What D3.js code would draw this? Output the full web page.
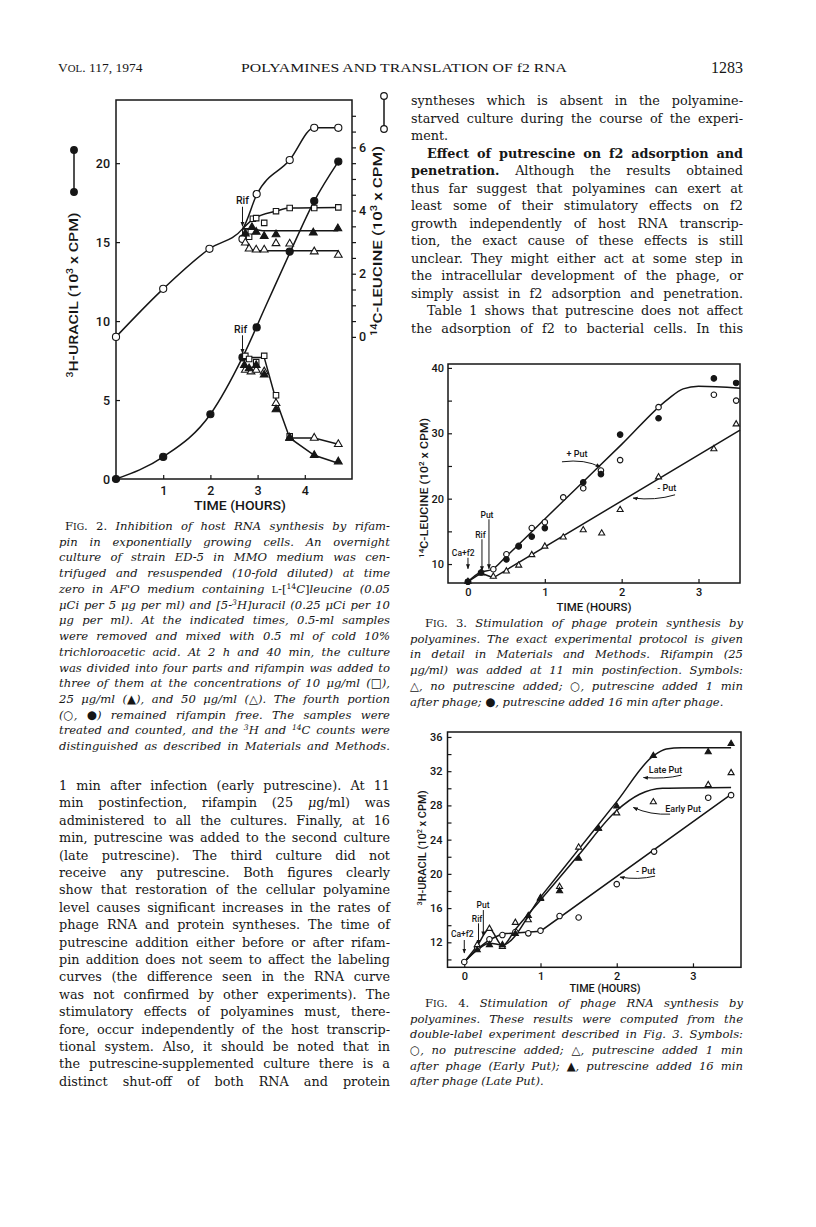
<!DOCTYPE html>
<html>
<head>
<meta charset="utf-8">
<script src="https://cdn.jsdelivr.net/npm/d3@7"></script>
<style>
  body { margin: 0; background: #fff; }
  svg { display: block; }
</style>
</head>
<body>
<svg id="page" width="816" height="1227"></svg>
<script>
const INK = '#161616';
const SERIF = '"DejaVu Serif", serif';
const SANS = 'Roboto, "Liberation Sans", sans-serif';

// ---------- page text ----------
// markup: *bold*  `toggle italic`  ^14 superscript  ~IG small caps  > indent  | last line (no justify)
const headerLeft = "V~OL. 117, 1974";
const headerTitle = "POLYAMINES AND TRANSLATION OF f2 RNA";
const headerPage = "1283";

const rightBodyLines = [
  "syntheses which is absent in the polyamine-",
  "starved culture during the course of the experi-",
  "ment.|",
  ">*Effect of putrescine on f2 adsorption and*",
  "*penetration.* Although the results obtained",
  "thus far suggest that polyamines can exert at",
  "least some of their stimulatory effects on f2",
  "growth independently of host RNA transcrip-",
  "tion, the exact cause of these effects is still",
  "unclear. They might either act at some step in",
  "the intracellular development of the phage, or",
  "simply assist in f2 adsorption and penetration.",
  ">Table 1 shows that putrescine does not affect",
  "the adsorption of f2 to bacterial cells. In this"
];

const leftBodyLines = [
  "1 min after infection (early putrescine). At 11",
  "min postinfection, rifampin (25 `μ`g/ml) was",
  "administered to all the cultures. Finally, at 16",
  "min, putrescine was added to the second culture",
  "(late putrescine). The third culture did not",
  "receive any putrescine. Both figures clearly",
  "show that restoration of the cellular polyamine",
  "level causes significant increases in the rates of",
  "phage RNA and protein syntheses. The time of",
  "putrescine addition either before or after rifam-",
  "pin addition does not seem to affect the labeling",
  "curves (the difference seen in the RNA curve",
  "was not confirmed by other experiments). The",
  "stimulatory effects of polyamines must, there-",
  "fore, occur independently of the host transcrip-",
  "tional system. Also, it should be noted that in",
  "the putrescine-supplemented culture there is a",
  "distinct shut-off of both RNA and protein"
];

const fig2Caption = [
  ">`F~IG. 2.` Inhibition of host RNA synthesis by rifam-",
  "pin in exponentially growing cells. An overnight",
  "culture of strain ED-5 in MMO medium was cen-",
  "trifuged and resuspended (10-fold diluted) at time",
  "zero in AF'O medium containing `~L-[^14`C`]`leucine (0.05",
  "μCi per 5 μg per ml) and [5-^3H]uracil (0.25 μCi per 10",
  "μg per ml). At the indicated times, 0.5-ml samples",
  "were removed and mixed with 0.5 ml of cold 10%",
  "trichloroacetic acid. At 2 h and 40 min, the culture",
  "was divided into four parts and rifampin was added to",
  "three of them at the concentrations of 10 μg/ml (`□`),",
  "25 μg/ml (`▲`), and 50 μg/ml (`△`). The fourth portion",
  "(`○`, `●`) remained rifampin free. The samples were",
  "treated and counted, and the ^3H and ^14C counts were",
  "distinguished as described in Materials and Methods."
];

const fig3Caption = [
  ">`F~IG. 3.` Stimulation of phage protein synthesis by",
  "polyamines. The exact experimental protocol is given",
  "in detail in Materials and Methods. Rifampin (25",
  "μg/ml) was added at 11 min postinfection. Symbols:",
  "`△`, no putrescine added; `○`, putrescine added 1 min",
  "after phage; `●`, putrescine added 16 min after phage.|"
];

const fig4Caption = [
  ">`F~IG. 4.` Stimulation of phage RNA synthesis by",
  "polyamines. These results were computed from the",
  "double-label experiment described in Fig. 3. Symbols:",
  "`○`, no putrescine added; `△`, putrescine added 1 min",
  "after phage (Early Put); `▲`, putrescine added 16 min",
  "after phage (Late Put).|"
];

// ---------- Fig. 2 data : [hours, value] ----------
const fig2XTicks = [1, 2, 3, 4];
const fig2UracilTicks = [0, 5, 10, 15, 20];
const fig2LeucineTicks = [0, 2, 4, 6];
// 14C-leucine (10^3 cpm, right axis)
const leuControl = [[0, 0], [1, 1.52], [1.98, 2.79], [2.68, 3.1], [2.98, 4.52], [3.68, 5.6], [4.2, 6.62], [4.71, 6.62]];
const leuControlLine = [[0, 0], [1, 1.52], [1.98, 2.79], [2.68, 3.42], [2.98, 4.5], [3.68, 5.6], [4.2, 6.62], [4.71, 6.62]];
const leuRif10 = [[2.74, 3.32], [2.82, 3.17], [2.9, 3.74], [2.97, 3.76], [3.14, 3.61], [3.39, 3.98], [3.68, 4.08], [4.2, 4.08], [4.71, 4.1]];
const leuRif10Line = [[2.68, 3.42], [2.9, 3.72], [3.39, 3.98], [3.68, 4.08], [4.71, 4.1]];
const leuRif25 = [[2.74, 3.27], [2.88, 3.47], [2.97, 3.32], [3.14, 3.19], [3.39, 3.24], [4.18, 3.3], [4.7, 3.43]];
const leuRif25Line = [[2.68, 3.42], [2.88, 3.42], [3.1, 3.36], [4.71, 3.36]];
const leuRif50 = [[2.74, 2.98], [2.82, 2.79], [2.97, 2.76], [3.14, 2.76], [3.39, 2.96], [3.68, 2.95], [4.2, 2.7], [4.71, 2.59]];
const leuRif50Line = [[2.68, 3.42], [2.76, 3.0], [2.86, 2.78], [3.0, 2.73], [4.71, 2.73]];
// 3H-uracil (10^3 cpm, left axis)
const uraControl = [[0, 0], [1, 1.4], [2, 4.1], [2.68, 7.7], [2.98, 9.6], [3.68, 14.4], [4.2, 17.6], [4.71, 20.1]];
const uraControlLine = [[0, 0], [1, 1.4], [2, 4.1], [2.68, 7.7], [3.18, 11.0], [3.68, 14.3], [4.2, 17.6], [4.71, 20.1]];
const uraRif10 = [[2.74, 7.8], [2.82, 7.6], [2.97, 7.4], [3.14, 7.8], [3.39, 5.3], [3.68, 2.7]];
const uraRif25 = [[2.72, 7.2], [2.82, 7.0], [2.97, 7.2], [3.14, 6.6], [3.39, 4.4], [3.68, 2.6], [4.2, 1.5], [4.71, 1.1]];
const uraRif50 = [[2.74, 6.9], [2.86, 6.8], [2.97, 6.9], [3.14, 6.8], [3.39, 4.8], [3.68, 2.6], [4.2, 2.6], [4.71, 2.2]];
const uraRifLine = [[2.68, 7.7], [3.14, 7.7], [3.39, 5.0], [3.68, 2.6], [4.2, 1.5], [4.71, 1.0]];
const uraRif50Line = [[3.68, 2.6], [4.2, 2.6], [4.71, 2.2]];

// ---------- Fig. 3 data : 14C-leucine (10^2 cpm) ----------
const fig3XTicks = [0, 1, 2, 3];
const fig3YTicks = [10, 20, 30, 40];
const f3NoPut = [[0, 7.3], [0.17, 8.6], [0.33, 8.1], [0.5, 8.9], [0.66, 9.8], [0.83, 11.4], [1.0, 12.7], [1.24, 14.1], [1.5, 15.2], [1.74, 14.7], [1.98, 18.3], [2.48, 23.3], [3.2, 27.6], [3.49, 31.4]];
const f3EarlyPut = [[0, 7.3], [0.33, 9.2], [0.5, 11.5], [0.66, 12.8], [0.83, 15.5], [1.0, 16.4], [1.24, 20.2], [1.5, 21.6], [1.73, 24.3], [1.98, 25.9], [2.48, 34.0], [3.2, 35.9], [3.49, 35.0]];
const f3LatePut = [[0, 7.3], [0.17, 8.7], [0.5, 10.7], [0.66, 12.7], [0.83, 14.2], [1.0, 15.5], [1.5, 22.5], [1.73, 23.75], [1.98, 29.8], [2.48, 32.3], [3.2, 38.4], [3.49, 37.7]];
const f3PutLine = [[0, 7.3], [0.17, 8.8], [0.3, 9.1], [0.5, 11.2], [1.0, 16.9], [1.5, 22.6], [2.0, 28.3], [2.6, 35.2], [2.8, 36.8], [3.0, 37.2], [3.54, 36.9]];
const f3NoPutLine = [[0, 7.3], [0.17, 8.6], [0.33, 7.9], [3.54, 30.5]];

// ---------- Fig. 4 data : 3H-uracil (10^2 cpm) ----------
const fig4XTicks = [0, 1, 2, 3];
const fig4YTicks = [12, 16, 20, 24, 28, 32, 36];
const f4NoPut = [[0, 9.7], [0.17, 11.3], [0.33, 12.35], [0.5, 12.85], [0.67, 13.2], [0.84, 13.05], [1.0, 13.36], [1.25, 15.07], [1.5, 14.9], [2.0, 18.8], [2.49, 22.6], [3.2, 28.9], [3.5, 29.2]];
const f4EarlyPut = [[0.17, 11.7], [0.33, 13.6], [0.5, 11.5], [0.67, 14.3], [0.84, 14.6], [1.0, 17.2], [1.25, 18.5], [1.5, 23.1], [1.76, 25.3], [2.0, 27.1], [2.48, 28.4], [3.2, 30.4], [3.5, 31.8]];
const f4LatePut = [[0.17, 11.1], [0.33, 11.7], [0.5, 11.7], [0.67, 13.0], [0.84, 15.1], [1.0, 17.1], [1.25, 18.0], [1.5, 21.8], [1.76, 25.3], [2.0, 27.9], [2.48, 33.8], [3.2, 34.25], [3.5, 35.2]];
const f4NoPutLine = [[0, 9.7], [0.17, 11.2], [0.33, 12.3], [0.5, 13.0], [1.0, 13.3], [3.5, 29.3]];
const f4EarlyLine = [[0, 9.7], [0.17, 11.6], [0.33, 13.6], [0.5, 11.6], [0.67, 13.5], [1.0, 16.95], [1.5, 22.2], [2.0, 27.4], [2.3, 29.3], [2.6, 30.0], [3.5, 30.1]];
const f4LateLine = [[0, 9.7], [0.17, 11.1], [0.33, 11.9], [0.5, 11.7], [1.0, 17.28], [1.5, 22.86], [2.0, 28.44], [2.48, 33.8], [2.65, 34.6], [2.85, 34.75], [3.5, 34.75]];

// ================= drawing =================
const svg = d3.select('#page');
svg.append('rect').attr('width', 816).attr('height', 1227).attr('fill', '#fff');

const defs = svg.append('defs');
defs.append('marker').attr('id', 'ah')
  .attr('viewBox', '0 0 10 10').attr('refX', 9).attr('refY', 5)
  .attr('markerWidth', 5).attr('markerHeight', 5)
  .attr('orient', 'auto')
  .append('path').attr('d', 'M0,1 L10,5 L0,9 Z').attr('fill', INK);

// split a markup line into words made of styled segments
function parseLine(str, italic) {
  const words = [];
  let cur = [], bold = false, ital = italic, buf = '', mode = 'n';
  const flush = () => { if (buf) cur.push({ t: buf, bold, ital, mode }); buf = ''; };
  for (const c of str) {
    if (c === ' ') { flush(); if (cur.length) words.push(cur); cur = []; mode = 'n'; continue; }
    if (c === '*') { flush(); bold = !bold; continue; }
    if (c === '`') { flush(); ital = !ital; continue; }
    if (c === '^') { flush(); mode = 'sup'; continue; }
    if (c === '~') { flush(); mode = 'sc'; continue; }
    if (mode === 'sup' && !/[0-9]/.test(c)) { flush(); mode = 'n'; }
    if (mode === 'sc' && !/[A-Z]/.test(c)) { flush(); mode = 'n'; }
    buf += c;
  }
  flush();
  if (cur.length) words.push(cur);
  return words;
}

function fillSegs(text, segs, size) {
  segs.forEach(s => {
    const ts = text.append('tspan').text(s.t)
      .attr('font-weight', s.bold ? 'bold' : null)
      .attr('font-style', s.ital ? 'italic' : null);
    if (s.mode === 'sup') ts.attr('font-size', size * 0.66).attr('baseline-shift', 'super');
    else if (s.mode === 'sc') ts.attr('font-size', size * 0.8);
    else ts.attr('font-size', size);
  });
}

function richText(g, str, size) {
  const t = g.append('text');
  parseLine(str, false).forEach((w, i) => {
    if (i) t.append('tspan').attr('font-size', size).text(' ');
    fillSegs(t, w, size);
  });
  return t;
}

// justified text column
function setBlock(lines, o) {
  const g = svg.append('g').attr('font-family', SERIF).attr('fill', INK);
  lines.forEach((raw, i) => {
    let s = raw, indent = 0, justify = true;
    if (s.startsWith('>')) { s = s.slice(1); indent = o.indent; }
    if (s.endsWith('|')) { s = s.slice(0, -1); justify = false; }
    const words = parseLine(s, o.italic);
    const y = o.y + i * o.lead;
    const x0 = o.x + indent, W = o.width - indent;
    const nodes = words.map(w => { const t = g.append('text').attr('y', y); fillSegs(t, w, o.size); return t; });
    const widths = nodes.map(t => t.node().getComputedTextLength());
    const total = d3.sum(widths), n = words.length;
    const space = o.size * 0.3;
    let gap = space, k = 1;
    if (total + space * (n - 1) > W) {
      gap = space * 0.8;
      k = (W - gap * (n - 1)) / total;
    } else if (justify && n > 1) {
      gap = (W - total) / (n - 1);
    }
    let x = x0;
    nodes.forEach((t, j) => {
      if (k < 1) t.attr('x', 0).attr('transform', `translate(${x},0) scale(${k},1)`);
      else t.attr('x', x);
      x += widths[j] * k + gap;
    });
  });
}

// ---------- header ----------
const hdr = svg.append('g').attr('font-family', '"Liberation Serif", serif').attr('fill', INK);
richText(hdr, headerLeft, 13.5).attr('x', 58).attr('y', 72);
hdr.append('text').attr('x', 404).attr('y', 72).attr('text-anchor', 'middle')
  .attr('font-size', 13.5).attr('textLength', 326).attr('lengthAdjust', 'spacingAndGlyphs')
  .text(headerTitle);
hdr.append('text').attr('x', 743).attr('y', 73).attr('text-anchor', 'end')
  .attr('font-size', 16).text(headerPage);

// ---------- text blocks ----------
setBlock(rightBodyLines, { x: 411, y: 105, width: 332, lead: 17.5, size: 12.8, italic: false, indent: 16 });
setBlock(fig2Caption, { x: 59, y: 530, width: 331, lead: 15.73, size: 11.6, italic: true, indent: 6 });
setBlock(leftBodyLines, { x: 59, y: 790, width: 331, lead: 17.4, size: 12.8, italic: false, indent: 16 });
setBlock(fig3Caption, { x: 410, y: 627, width: 333, lead: 15.7, size: 11.6, italic: true, indent: 15 });
setBlock(fig4Caption, { x: 410, y: 1007, width: 333, lead: 15.65, size: 11.6, italic: true, indent: 15 });

// ---------- chart helpers ----------
function frame(g, b) {
  g.append('rect').attr('x', b.left).attr('y', b.top)
    .attr('width', b.right - b.left).attr('height', b.bottom - b.top)
    .attr('fill', 'none').attr('stroke', INK).attr('stroke-width', 1.5);
}
function styleAxis(sel, size) {
  sel.select('.domain').remove();
  sel.attr('font-family', SANS).attr('font-size', size).attr('font-weight', 500);
  sel.selectAll('line').attr('stroke', INK).attr('stroke-width', 1.2);
  sel.selectAll('text').attr('fill', INK);
}
function drawLine(g, data, x, y, curve) {
  g.append('path').datum(data)
    .attr('d', d3.line().x(d => x(d[0])).y(d => y(d[1])).curve(curve || d3.curveLinear))
    .attr('fill', 'none').attr('stroke', INK).attr('stroke-width', 1.5);
}
const SYM = { circle: d3.symbolCircle, square: d3.symbolSquare, triangle: d3.symbolTriangle };
function drawMarks(g, data, x, y, type, filled, size) {
  g.append('g').selectAll('path').data(data).join('path')
    .attr('transform', d => `translate(${x(d[0])},${y(d[1])})`)
    .attr('d', d3.symbol(SYM[type], size))
    .attr('fill', filled ? INK : '#fff')
    .attr('stroke', INK).attr('stroke-width', 1.1);
}
function arrow(g, pts) {
  const [a, c, b] = pts;
  const d = c ? `M${a[0]},${a[1]} Q${c[0]},${c[1]} ${b[0]},${b[1]}` : `M${a[0]},${a[1]} L${b[0]},${b[1]}`;
  g.append('path').attr('d', d).attr('fill', 'none').attr('stroke', INK)
    .attr('stroke-width', 1).attr('marker-end', 'url(#ah)');
}
function label(g, str, x, y, size, len) {
  const t = richText(g, str, size).attr('x', x).attr('y', y)
    .attr('text-anchor', 'middle').attr('dominant-baseline', 'central');
  if (len) t.attr('textLength', len).attr('lengthAdjust', 'spacingAndGlyphs');
  return t;
}
function vTitle(g, str, size, cx, cy, len) {
  richText(g, str, size).attr('text-anchor', 'middle')
    .attr('textLength', len).attr('lengthAdjust', 'spacingAndGlyphs')
    .attr('transform', `translate(${cx},${cy}) rotate(-90)`);
}

// ================= Fig. 2 =================
{
  const b = { left: 116, right: 352, top: 100, bottom: 479 };
  const x = d3.scaleLinear().domain([0, 5]).range([b.left, b.right]);
  const yU = d3.scaleLinear().domain([0, 24]).range([b.bottom, b.top]);
  const yL = d3.scaleLinear().domain([-4.5, 7.5]).range([b.bottom, b.top]);
  const g = svg.append('g').attr('fill', INK).attr('font-family', SANS).attr('font-weight', 500);

  g.append('g').attr('transform', `translate(0,${b.bottom})`)
    .call(d3.axisBottom(x).tickValues(fig2XTicks).tickSize(-4).tickPadding(7).tickFormat(d3.format('d')))
    .call(s => styleAxis(s, 12.5));
  g.append('g').attr('transform', `translate(${b.left},0)`)
    .call(d3.axisLeft(yU).tickValues(fig2UracilTicks).tickSize(-4).tickPadding(6))
    .call(s => styleAxis(s, 12.5));
  g.append('g').attr('transform', `translate(${b.right},0)`)
    .call(d3.axisRight(yL).tickValues(d3.range(0, 7.01, 0.5)).tickSize(4).tickFormat(''))
    .call(s => styleAxis(s, 12.5));
  g.append('g').attr('transform', `translate(${b.right},0)`)
    .call(d3.axisRight(yL).tickValues(fig2LeucineTicks).tickSize(0).tickPadding(7))
    .call(s => styleAxis(s, 12.5));
  frame(g, b);

  drawLine(g, leuControlLine, x, yL, d3.curveMonotoneX);
  drawLine(g, leuRif10Line, x, yL, d3.curveMonotoneX);
  drawLine(g, leuRif25Line, x, yL);
  drawLine(g, leuRif50Line, x, yL, d3.curveMonotoneX);
  drawLine(g, uraControlLine, x, yU, d3.curveMonotoneX);
  drawLine(g, uraRifLine, x, yU);
  drawLine(g, uraRif50Line, x, yU);

  drawMarks(g, leuControl, x, yL, 'circle', false, 40);
  drawMarks(g, leuRif10, x, yL, 'square', false, 30);
  drawMarks(g, leuRif25, x, yL, 'triangle', true, 26);
  drawMarks(g, leuRif50, x, yL, 'triangle', false, 26);
  drawMarks(g, uraControl, x, yU, 'circle', true, 40);
  drawMarks(g, uraRif10, x, yU, 'square', false, 30);
  drawMarks(g, uraRif50, x, yU, 'triangle', false, 26);
  drawMarks(g, uraRif25, x, yU, 'triangle', true, 26);

  // Rif annotations
  label(g, 'Rif', x(2.68), yL(4.34), 10.5);
  arrow(g, [[x(2.68), yL(4.12)], null, [x(2.68), yL(3.5)]]);
  label(g, 'Rif', x(2.64), yU(9.5), 10.5);
  arrow(g, [[x(2.68), yU(9.1)], null, [x(2.68), yU(7.95)]]);

  // axis titles
  label(g, 'TIME (HOURS)', 240, 505, 13, 92);
  vTitle(g, '^3H-URACIL (10^3 x CPM)', 13, 78, 295, 165);
  vTitle(g, '^14C-LEUCINE (10^3 x CPM)', 13, 382, 241, 190);

  // series keys beside the axes
  const key = (cx, y1, y2, filled) => {
    g.append('line').attr('x1', cx).attr('x2', cx).attr('y1', y1).attr('y2', y2)
      .attr('stroke', INK).attr('stroke-width', 1.5);
    [y1, y2].forEach(cy => g.append('circle').attr('cx', cx).attr('cy', cy).attr('r', 3.3)
      .attr('fill', filled ? INK : '#fff').attr('stroke', INK).attr('stroke-width', 1.2));
  };
  key(74, 150, 192, true);
  key(384, 96, 129, false);
}

// ================= Fig. 3 =================
{
  const b = { left: 448, right: 740, top: 364, bottom: 583 };
  const x = d3.scaleLinear().domain([-0.26, 3.54]).range([b.left, b.right]);
  const y = d3.scaleLinear().domain([7.1, 40.6]).range([b.bottom, b.top]);
  const g = svg.append('g').attr('fill', INK).attr('font-family', SANS).attr('font-weight', 500);

  g.append('g').attr('transform', `translate(0,${b.bottom})`)
    .call(d3.axisBottom(x).tickValues(fig3XTicks).tickSize(-4).tickPadding(5).tickFormat(d3.format('d')))
    .call(s => styleAxis(s, 11));
  g.append('g').attr('transform', `translate(${b.left},0)`)
    .call(d3.axisLeft(y).tickValues(d3.range(10, 40.1, 5)).tickSize(-4).tickFormat(''))
    .call(s => styleAxis(s, 11));
  g.append('g').attr('transform', `translate(${b.left},0)`)
    .call(d3.axisLeft(y).tickValues(fig3YTicks).tickSize(0).tickPadding(4))
    .call(s => styleAxis(s, 11));
  frame(g, b);

  drawLine(g, f3PutLine, x, y, d3.curveMonotoneX);
  drawLine(g, f3NoPutLine, x, y);
  drawMarks(g, f3NoPut, x, y, 'triangle', false, 16);
  drawMarks(g, f3EarlyPut, x, y, 'circle', false, 24);
  drawMarks(g, f3LatePut, x, y, 'circle', true, 24);

  label(g, '+ Put', x(1.42), y(26.86), 9);
  arrow(g, [[x(1.223), y(25.64)], [x(1.526), y(26.09)], [x(1.721), y(24.83)]]);
  label(g, '- Put', x(2.587), y(21.62), 9);
  arrow(g, [[x(2.695), y(20.59)], [x(2.435), y(19.67)], [x(2.149), y(20.09)]]);
  label(g, 'Ca+f2', x(-0.062), y(11.68), 8.5);
  arrow(g, [[x(0), y(10.96)], null, [x(0), y(9.28)]]);
  label(g, 'Rif', x(0.162), y(14.48), 8.5);
  arrow(g, [[x(0.182), y(13.79)], null, [x(0.182), y(8.98)]]);
  label(g, 'Put', x(0.247), y(17.53), 8.5);
  arrow(g, [[x(0.273), y(16.85)], null, [x(0.273), y(9.28)]]);

  label(g, 'TIME (HOURS)', 594, 607, 11, 75);
  vTitle(g, '^14C-LEUCINE (10^2 x CPM)', 10.5, 428, 488, 140);
}

// ================= Fig. 4 =================
{
  const b = { left: 447.5, right: 741, top: 732, bottom: 967.3 };
  const x = d3.scaleLinear().domain([-0.22, 3.63]).range([b.left, b.right]);
  const y = d3.scaleLinear().domain([9.08, 36.58]).range([b.bottom, b.top]);
  const g = svg.append('g').attr('fill', INK).attr('font-family', SANS).attr('font-weight', 500);

  g.append('g').attr('transform', `translate(0,${b.bottom})`)
    .call(d3.axisBottom(x).tickValues(fig4XTicks).tickSize(-4).tickPadding(5).tickFormat(d3.format('d')))
    .call(s => styleAxis(s, 11));
  g.append('g').attr('transform', `translate(${b.left},0)`)
    .call(d3.axisLeft(y).tickValues(d3.range(10, 36.1, 2)).tickSize(-4).tickFormat(''))
    .call(s => styleAxis(s, 11));
  g.append('g').attr('transform', `translate(${b.left},0)`)
    .call(d3.axisLeft(y).tickValues(fig4YTicks).tickSize(0).tickPadding(5))
    .call(s => styleAxis(s, 11));
  frame(g, b);

  drawLine(g, f4NoPutLine, x, y);
  drawLine(g, f4EarlyLine, x, y, d3.curveMonotoneX);
  drawLine(g, f4LateLine, x, y, d3.curveMonotoneX);
  drawMarks(g, f4NoPut, x, y, 'circle', false, 24);
  drawMarks(g, f4EarlyPut, x, y, 'triangle', false, 16);
  drawMarks(g, f4LatePut, x, y, 'triangle', true, 16);

  label(g, 'Late Put', x(2.641), y(32.19), 9);
  arrow(g, [[x(2.845), y(31.53)], [x(2.635), y(31.06)], [x(2.35), y(31.26)]]);
  label(g, 'Early Put', x(2.871), y(27.56), 9);
  arrow(g, [[x(2.70), y(26.98)], [x(2.44), y(26.86)], [x(2.218), y(27.76)]]);
  label(g, '- Put', x(2.379), y(20.32), 9);
  arrow(g, [[x(2.503), y(19.74)], [x(2.28), y(19.27)], [x(2.043), y(19.62)]]);
  label(g, 'Ca+f2', x(-0.026), y(12.93), 8.5);
  arrow(g, [[x(0), y(12.27)], null, [x(0), y(10.75)]]);
  label(g, 'Rif', x(0.168), y(14.68), 8.5);
  arrow(g, [[x(0.187), y(14.22)], null, [x(0.187), y(11.8)]]);
  label(g, 'Put', x(0.247), y(16.35), 8.5);
  arrow(g, [[x(0.25), y(15.77)], null, [x(0.25), y(12.74)]]);

  label(g, 'TIME (HOURS)', 605, 988, 11, 71);
  vTitle(g, '^3H-URACIL (10^2 x CPM)', 10.5, 426, 848, 115);
}
</script>
</body>
</html>
